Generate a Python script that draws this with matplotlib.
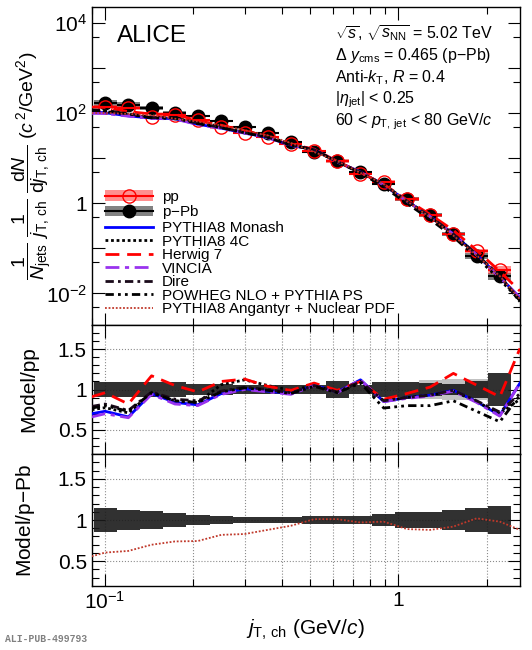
import numpy as np
import matplotlib
matplotlib.use('Agg')
import matplotlib.pyplot as plt
from matplotlib.patches import Rectangle, Patch
from matplotlib.lines import Line2D
from matplotlib.ticker import FixedLocator, FixedFormatter, NullFormatter, LogLocator

plt.rcParams['font.family'] = ['Liberation Sans', 'DejaVu Sans']
plt.rcParams['mathtext.fontset'] = 'custom'
plt.rcParams['mathtext.rm'] = 'Liberation Sans'
plt.rcParams['mathtext.it'] = 'Liberation Sans:italic'
plt.rcParams['mathtext.bf'] = 'Liberation Sans:bold'

# jT bins (GeV/c)
bin_edges = [0.0913, 0.1095, 0.1315, 0.1578, 0.1893, 0.2272, 0.2726, 0.3272, 0.3926,
             0.4711, 0.5653, 0.6784, 0.8141, 0.9769, 1.172, 1.407, 1.688, 2.026, 2.431]
bin_centers = [0.100, 0.120, 0.144, 0.173, 0.207, 0.249, 0.299, 0.358, 0.430,
               0.516, 0.619, 0.743, 0.892, 1.070, 1.284, 1.541, 1.849, 2.219]

# measured spectra
pp_vals = [140, 132, 82, 90, 70, 49, 36, 29.5, 20.5, 14.8, 8.6, 4.4, 3.0, 1.25, 0.55, 0.21, 0.086, 0.034]
ppb_vals = [167, 154, 129, 102, 87.5, 65.5, 50.6, 36.6, 23.5, 13.6, 8.58, 4.89, 2.70, 1.25, 0.561,
            0.209, 0.0689, 0.0247]
# relative uncertainties (boxes)
pp_unc = [0.09, 0.09, 0.09, 0.09, 0.07, 0.07, 0.05, 0.05, 0.05, 0.055, 0.10, 0.055, 0.09, 0.09,
          0.08, 0.07, 0.10, 0.20]
pp_unc_light = [0, 0, 0, 0, 0, 0, 0, 0, 0, 0, 0, 0, 0, 0, 0.12, 0.13, 0.13, 0]
ppb_unc = [0.145, 0.125, 0.105, 0.085, 0.06, 0.05, 0.04, 0.037, 0.035, 0.045, 0.05, 0.045, 0.075,
           0.10, 0.10, 0.12, 0.145, 0.175]

# model curves: axis ends + bin centers
x_model = [0.09] + bin_centers + [2.6]
pp_edge_vals = [150, 0.0075]
ppb_edge_vals = [180, 0.0085]

monash = [0.70, 0.73, 0.66, 0.95, 0.84, 0.81, 0.95, 1.01, 0.98, 0.95, 1.055, 0.97, 1.12, 0.85,
          0.90, 0.93, 0.99, 0.85, 0.68, 1.08]
vincia = [0.66, 0.70, 0.65, 0.94, 0.82, 0.80, 0.94, 1.00, 0.97, 0.94, 1.05, 0.96, 1.12, 0.85,
          0.89, 0.92, 0.98, 0.84, 0.67, 1.08]
four_c = [0.75, 0.775, 0.71, 0.96, 0.86, 0.84, 1.06, 1.12, 1.05, 0.99, 1.05, 0.97, 1.10, 0.86,
          0.90, 0.93, 0.98, 0.85, 0.70, 0.88]
herwig = [0.91, 0.96, 0.82, 1.17, 1.05, 0.97, 1.10, 1.13, 1.04, 0.99, 1.08, 0.99, 1.10, 0.88,
          0.95, 1.03, 1.20, 1.055, 0.91, 1.51]
dire = [0.79, 0.82, 0.74, 0.97, 0.88, 0.86, 0.98, 1.03, 1.00, 0.96, 1.05, 0.97, 1.10, 0.86,
        0.90, 0.93, 0.99, 0.86, 0.72, 0.95]
powheg = [0.77, 0.80, 0.73, 0.96, 0.86, 0.84, 0.97, 1.02, 0.99, 0.95, 1.04, 0.96, 1.08, 0.77,
          0.80, 0.80, 0.86, 0.73, 0.60, 0.93]
angantyr = [0.56, 0.605, 0.625, 0.70, 0.74, 0.745, 0.82, 0.83, 0.88, 0.93, 1.01, 1.01, 0.97, 0.98,
            0.89, 0.88, 0.92, 1.02, 0.98, 0.88]

models_pp = [
    ('PYTHIA8 Monash', monash, dict(color='#0000ff', ls='-')),
    ('PYTHIA8 4C', four_c, dict(color='black', ls=(0, (1, 1)))),
    ('Herwig 7', herwig, dict(color='#ff0000', ls=(0, (5, 2.8)))),
    ('VINCIA', vincia, dict(color='#9933ee', ls=(0, (5, 2, 1.5, 2)))),
    ('Dire', dire, dict(color='#1a0a1a', ls=(0, (3, 1.5, 1, 1.5)))),
    ('POWHEG NLO + PYTHIA PS', powheg, dict(color='black', ls=(0, (3, 1.5, 1, 1.5, 1, 1.5)))),
]
ang_style = dict(color='#c0392b', ls=(0, (1, 1)), lw=1.3)

fig = plt.figure(figsize=(5.32, 6.5), dpi=100)
L, R = 0.1724, 0.9774
ax1 = fig.add_axes([L, 0.5, R - L, 0.9897 - 0.5])
ax2 = fig.add_axes([L, 0.3015, R - L, 0.5 - 0.3015], sharex=ax1)
ax3 = fig.add_axes([L, 0.0985, R - L, 0.3015 - 0.0985], sharex=ax1)

lo = np.array(bin_edges[:-1])
hi = np.array(bin_edges[1:])
xc = np.array(bin_centers)
xerr = [xc - lo, hi - xc]

# ---- top panel
for i in range(len(xc)):
    v = ppb_vals[i]
    ax1.add_patch(Rectangle((lo[i], v * (1 - ppb_unc[i])), hi[i] - lo[i], 2 * v * ppb_unc[i],
                            facecolor='0.3', alpha=0.7, edgecolor='none', zorder=2))
    v = pp_vals[i]
    ax1.add_patch(Rectangle((lo[i], v * (1 - pp_unc[i])), hi[i] - lo[i], 2 * v * pp_unc[i],
                            facecolor='#ff3333', alpha=0.55, edgecolor='none', zorder=2))
ax1.errorbar(xc, pp_vals, xerr=xerr, fmt='o', ms=9.5, mfc='none', mec='red', color='red',
             mew=1.0, elinewidth=1.5, capsize=0, zorder=4)
ax1.errorbar(xc, ppb_vals, xerr=xerr, fmt='o', ms=9, color='black', elinewidth=1.5,
             capsize=0, zorder=3)

pp_ref = np.array([pp_edge_vals[0]] + pp_vals + [pp_edge_vals[1]])
ppb_ref = np.array([ppb_edge_vals[0]] + ppb_vals + [ppb_edge_vals[1]])
for name, ratio, st in models_pp:
    ax1.plot(x_model, np.array(ratio) * pp_ref, lw=2, zorder=5, **st)
ax1.plot(x_model, np.array(angantyr) * ppb_ref, zorder=5, **ang_style)

ax1.set_xscale('log')
ax1.set_yscale('log')
ax1.set_xlim(0.09, 2.6)
ax1.set_ylim(2e-3, 2.3e4)
ax1.yaxis.set_major_locator(FixedLocator([1e-2, 1e-1, 1, 10, 1e2, 1e3, 1e4]))
ax1.yaxis.set_major_formatter(FixedFormatter(['$10^{-2}$', '', '1', '', '$10^{2}$', '', '$10^{4}$']))
ax1.yaxis.set_minor_locator(FixedLocator([5e-3, 5e-2, 5e-1, 5, 50, 500, 5000]))
ax1.yaxis.set_minor_formatter(NullFormatter())
ax1.set_ylabel(r'$\dfrac{1}{N_{\rm jets}}\ \dfrac{1}{j_{\rm T,\,ch}}\ \dfrac{{\rm d}N}{{\rm d}j_{\rm T,\,ch}}$'
               r' ($c^{\,2}$/GeV$^{2}$)', fontsize=14, va='center')
ax1.yaxis.set_label_coords(-0.14, 0.5)

ax1.text(0.058, 0.908, 'ALICE', transform=ax1.transAxes, fontsize=17.5, va='center')
info = [r'$\sqrt{s}$, $\sqrt{s_{\rm NN}}$ = 5.02 TeV',
        r'$\Delta\ y_{\rm cms}$ = 0.465 (p$-$Pb)',
        r'Anti-$k_{\rm T}$, $R$ = 0.4',
        r'$|\eta_{\rm jet}|$ < 0.25',
        r'60 < $p_{\rm T,\,jet}$ < 80 GeV/$c$']
for k, s in enumerate(info):
    ax1.text(0.568, 0.917 - 0.0697 * k, s, transform=ax1.transAxes, fontsize=11.5, va='center')

pp_h = (Patch(facecolor='#ff3333', alpha=0.55, edgecolor='none'),
        Line2D([], [], color='red', lw=1.5, marker='o', ms=9.5, mfc='none', mec='red'))
ppb_h = (Patch(facecolor='0.3', alpha=0.7, edgecolor='none'),
         Line2D([], [], color='black', lw=1.5, marker='o', ms=9))
handles = [pp_h, ppb_h] + [Line2D([], [], lw=2, **st) for _, _, st in models_pp] + \
          [Line2D([], [], **ang_style)]
labels = ['pp', 'p$-$Pb'] + [n for n, _, _ in models_pp] + ['PYTHIA8 Angantyr + Nuclear PDF']
ax1.legend(handles, labels, loc='lower left', bbox_to_anchor=(0.025, 0.018), frameon=False,
           fontsize=11, handlelength=3.1, handletextpad=0.6, labelspacing=-0.03,
           borderpad=0.2, borderaxespad=0.0)

# ---- ratio panels
for i in range(len(xc)):
    if pp_unc_light[i] > 0:
        ax2.add_patch(Rectangle((lo[i], 1 - pp_unc_light[i]), hi[i] - lo[i], 2 * pp_unc_light[i],
                                facecolor='0.6', alpha=0.6, edgecolor='none', zorder=2))
    ax2.add_patch(Rectangle((lo[i], 1 - pp_unc[i]), hi[i] - lo[i], 2 * pp_unc[i],
                            facecolor='0.1', alpha=0.9, edgecolor='none', zorder=2))
    ax3.add_patch(Rectangle((lo[i], 1 - ppb_unc[i]), hi[i] - lo[i], 2 * ppb_unc[i],
                            facecolor='0.1', alpha=0.9, edgecolor='none', zorder=2))
for name, ratio, st in models_pp:
    ax2.plot(x_model, ratio, lw=2, zorder=5, **st)
ax3.plot(x_model, angantyr, zorder=5, **ang_style)

ax2.set_ylabel('Model/pp', fontsize=15, va='center')
ax3.set_ylabel('Model/p$-$Pb', fontsize=15, va='center')
ax2.yaxis.set_label_coords(-0.148, 0.5)
ax3.yaxis.set_label_coords(-0.155, 0.5)
for ax in (ax2, ax3):
    ax.set_ylim(0.2, 1.8)
    ax.yaxis.set_major_locator(FixedLocator([0.5, 1.0, 1.5]))
    ax.yaxis.set_major_formatter(FixedFormatter(['0.5', '1', '1.5']))
    ax.yaxis.set_minor_locator(FixedLocator(np.arange(0.3, 1.75, 0.1)))
    ax.grid(True, which='both', axis='x', ls=':', color='0.55', lw=0.8, zorder=0)
    ax.grid(True, which='major', axis='y', ls=':', color='0.55', lw=0.8, zorder=0)
    ax.set_axisbelow(True)

ax3.xaxis.set_major_locator(FixedLocator([0.1, 1]))
ax3.xaxis.set_major_formatter(FixedFormatter(['$10^{-1}$', '1']))
ax3.xaxis.set_minor_locator(LogLocator(base=10, subs=np.arange(2, 10)))
ax3.xaxis.set_minor_formatter(NullFormatter())
ax3.set_xlabel(r'$j_{\rm T,\,ch}$ (GeV/$c$)', fontsize=15)

for ax in (ax1, ax2, ax3):
    ax.tick_params(which='both', direction='in', top=True, right=True, labelsize=15, width=0.8)
    ax.tick_params(which='major', length=9)
    ax.tick_params(which='minor', length=5)
    for sp in ax.spines.values():
        sp.set_linewidth(1.0)
for ax in (ax1, ax2):
    plt.setp(ax.get_xticklabels(), visible=False)

fig.text(0.01, 0.012, 'ALI-PUB-499793', fontsize=7, color='0.5', family='Liberation Mono',
         weight='bold')

fig.savefig('out.png', dpi=100)
